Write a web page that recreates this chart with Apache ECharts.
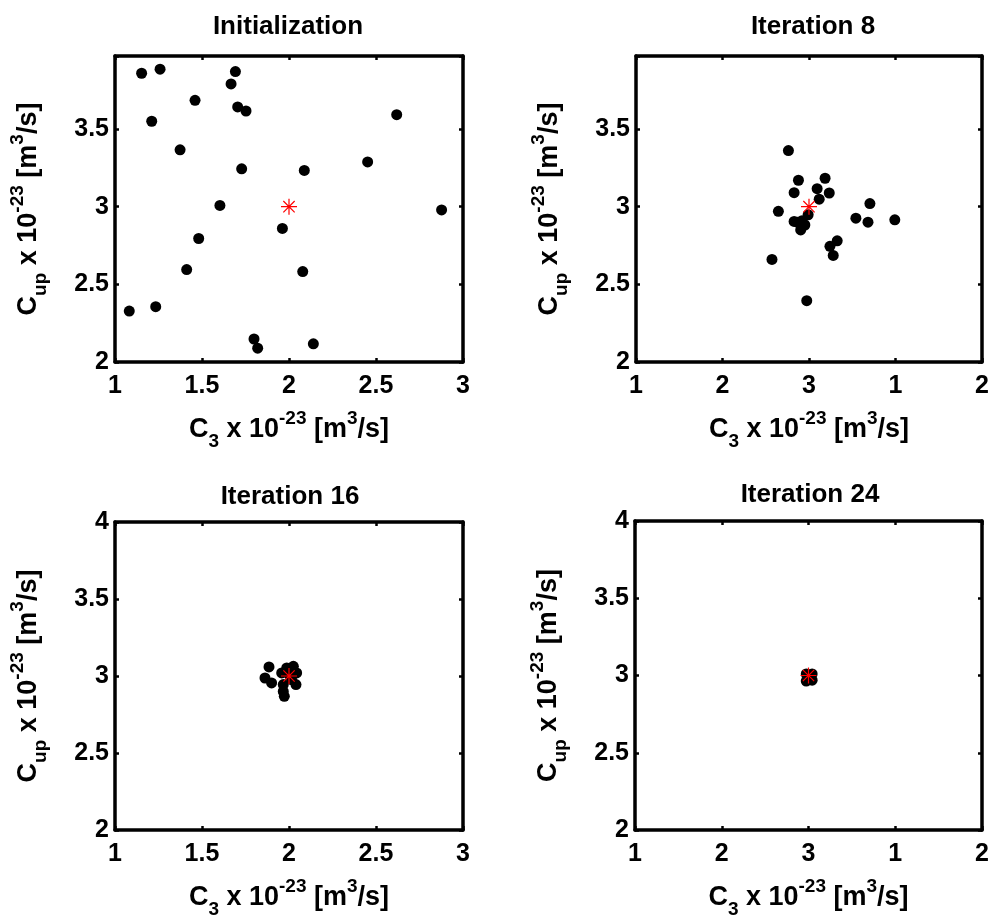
<!DOCTYPE html>
<html>
<head>
<meta charset="utf-8">
<script src="https://cdn.jsdelivr.net/npm/echarts@6/dist/echarts.min.js"></script>
<style>
html,body{margin:0;padding:0;background:#fff;}
#main{width:993px;height:920px;}
</style>
</head>
<body>
<div id="main"></div>
<script>
// ---- data ----
const titles = ['Initialization', 'Iteration 8', 'Iteration 16', 'Iteration 24'];

const initX = [1.153,1.259,1.692,1.667,1.460,1.705,1.753,1.211,2.619,1.374,1.728,2.088,2.452,1.603,2.877,1.962,1.481,1.412,2.079,1.082,1.234,1.799,1.820,2.140];
const initY = [3.859,3.885,3.870,3.790,3.685,3.642,3.616,3.550,3.592,3.366,3.244,3.233,3.288,3.008,2.979,2.860,2.795,2.595,2.582,2.328,2.356,2.148,2.089,2.117];

const it8X = [1.881,1.939,2.093,1.914,2.047,2.117,2.059,1.823,2.352,2.271,2.341,2.496,1.914,1.933,1.952,1.976,1.960,1.995,2.121,2.163,2.140,1.786,1.987];
const it8Y = [3.361,3.170,3.183,3.090,3.116,3.088,3.048,2.970,3.020,2.926,2.900,2.915,2.905,2.900,2.850,2.882,2.910,2.948,2.745,2.780,2.686,2.660,2.395];

const it16X = [1.885,1.862,1.900,1.967,1.967,1.973,1.987,2.025,2.044,2.015,2.040,2.000,1.958];
const it16Y = [3.059,2.987,2.955,2.944,2.900,2.868,3.052,3.063,3.020,2.976,2.944,3.010,3.020];

const it24X = [1.987,2.021,2.021,1.987,2.004];
const it24Y = [3.010,3.010,2.970,2.964,2.990];

const trueX = [2];
const trueY = [3];

const xTickValues = [1, 1.5, 2, 2.5, 3];
const xTickLabelsA = ['1', '1.5', '2', '2.5', '3'];
const xTickLabelsB = ['1', '2', '3', '1', '2'];
const yTickValues = [2, 2.5, 3, 3.5, 4];
const yTickLabels = ['2', '2.5', '3', '3.5', '4'];

const yMaxTop = 3.97;
const yMaxBottom = 4;

// ---- layout ----
const FONT = "'Liberation Sans', Arial, sans-serif";
const grids = [
  {left: 115, top: 56, width: 348, height: 306},
  {left: 636, top: 56, width: 346, height: 306},
  {left: 115, top: 522, width: 348, height: 308},
  {left: 635, top: 521, width: 347, height: 309}
];
const titlePos = [
  {x: 283, y: 9}, {x: 808, y: 9}, {x: 285, y: 479}, {x: 805, y: 477}
];
const xLabelSets = [xTickLabelsA, xTickLabelsB, xTickLabelsA, xTickLabelsB];
const yMaxes = [yMaxTop, yMaxTop, yMaxBottom, yMaxBottom];
const pointsX = [initX, it8X, it16X, it24X];
const pointsY = [initY, it8Y, it16Y, it24Y];

function zip(a, b) { return a.map((v, i) => [v, b[i]]); }
function labelFrom(values, labels) {
  return function (v) {
    for (let i = 0; i < values.length; i++) {
      if (Math.abs(values[i] - v) < 1e-6) return labels[i];
    }
    return '';
  };
}

const rich = {
  m: {fontSize: 27, fontWeight: 'bold', fontFamily: FONT, color: '#000', lineHeight: 42, verticalAlign: 'middle'},
  sup: {fontSize: 19, fontWeight: 'bold', fontFamily: FONT, color: '#000', lineHeight: 30, verticalAlign: 'top'},
  sub: {fontSize: 19, fontWeight: 'bold', fontFamily: FONT, color: '#000', lineHeight: 17, verticalAlign: 'bottom'}
};
const xName = '{m|C}{sub|3}{m| x 10}{sup|-23}{m| [m}{sup|3}{m|/s]}';
const yName = '{m|C}{sub|up}{m| x 10}{sup|-23}{m| [m}{sup|3}{m|/s]}';

const star = 'path://M0,-10L0,10M-10,0L10,0M-7.07,-7.07L7.07,7.07M-7.07,7.07L7.07,-7.07';

const lineStyle = {color: '#000', width: 3.5};
const tickStyle = {show: true, inside: true, length: 4, lineStyle: {color: '#000', width: 2.5}};

const option = {
  backgroundColor: '#fff',
  animation: false,
  title: [],
  grid: [],
  xAxis: [],
  yAxis: [],
  series: []
};

for (let i = 0; i < 4; i++) {
  const g = grids[i];
  option.grid.push({left: g.left, top: g.top, width: g.width, height: g.height, containLabel: false, show: false});
  option.title.push({
    text: titles[i], left: titlePos[i].x, top: titlePos[i].y, textAlign: 'center',
    textStyle: {fontSize: 26, fontWeight: 'bold', fontFamily: FONT, color: '#000'}
  });
  option.xAxis.push({
    type: 'value', gridIndex: i, position: 'bottom', min: 1, max: 3, interval: 0.5,
    axisLine: {show: true, onZero: false, lineStyle: lineStyle},
    axisTick: tickStyle, splitLine: {show: false},
    axisLabel: {show: true, margin: 12, fontSize: 25, fontWeight: 'bold', fontFamily: FONT, color: '#000',
      formatter: labelFrom(xTickValues, xLabelSets[i])},
    name: xName, nameLocation: 'middle', nameGap: 47,
    nameTextStyle: {rich: rich}
  });
  option.xAxis.push({
    type: 'value', gridIndex: i, position: 'top', min: 1, max: 3, interval: 0.5,
    axisLine: {show: true, onZero: false, lineStyle: lineStyle},
    axisTick: tickStyle, splitLine: {show: false}, axisLabel: {show: false}
  });
  option.yAxis.push({
    type: 'value', gridIndex: i, position: 'left', min: 2, max: yMaxes[i], interval: 0.5,
    axisLine: {show: true, onZero: false, lineStyle: lineStyle},
    axisTick: tickStyle, splitLine: {show: false},
    axisLabel: {show: true, margin: 6, fontSize: 25, fontWeight: 'bold', fontFamily: FONT, color: '#000',
      formatter: labelFrom(yTickValues, yTickLabels), showMaxLabel: true},
    name: yName, nameLocation: 'middle', nameGap: 65,
    nameTextStyle: {rich: rich}
  });
  option.yAxis.push({
    type: 'value', gridIndex: i, position: 'right', min: 2, max: yMaxes[i], interval: 0.5,
    axisLine: {show: true, onZero: false, lineStyle: lineStyle},
    axisTick: tickStyle, splitLine: {show: false}, axisLabel: {show: false}
  });
  option.series.push({
    type: 'scatter', xAxisIndex: 2 * i, yAxisIndex: 2 * i,
    data: zip(pointsX[i], pointsY[i]),
    symbol: 'circle', symbolSize: 11,
    itemStyle: {color: '#000', opacity: 1},
    z: 2, silent: true
  });
  option.series.push({
    type: 'scatter', xAxisIndex: 2 * i, yAxisIndex: 2 * i,
    data: zip(trueX, trueY),
    symbol: star, symbolSize: 16,
    itemStyle: {color: 'rgba(0,0,0,0)', borderColor: '#ff0000', borderWidth: 1.2, opacity: 1},
    z: 5, silent: true
  });
}

const chart = echarts.init(document.getElementById('main'), null, {renderer: 'canvas'});
chart.setOption(option);
</script>
</body>
</html>
